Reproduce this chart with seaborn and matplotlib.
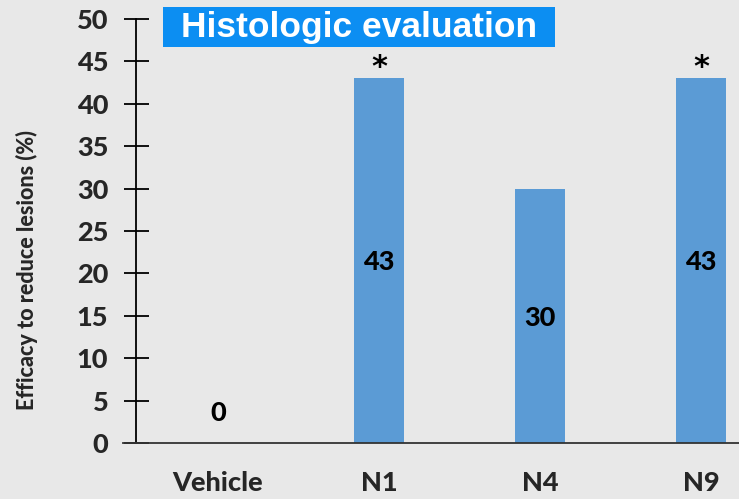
import matplotlib
matplotlib.use("Agg")
import matplotlib.pyplot as plt
from matplotlib.patches import Rectangle
import seaborn as sns
import pandas as pd

categories = ["Vehicle", "N1", "N4", "N9"]
efficacy = [0, 43, 30, 43]
value_labels = ["0", "43", "30", "43"]
label_y = [3.5, 21.3, 14.7, 21.3]
significant = [False, True, False, True]
yticks = [0, 5, 10, 15, 20, 25, 30, 35, 40, 45, 50]

bg = "#e8e8e8"
sns.set_theme(style="white")
plt.rcParams["font.family"] = ["Lato", "DejaVu Sans"]
WT = "black"
FS = 19.5

W, H = 739, 499
fig = plt.figure(figsize=(W / 100, H / 100), dpi=100, facecolor=bg)
ax_left_px, ax_right_px = 123, 739
ax_bottom_px, ax_top_px = 443, 19
ax = fig.add_axes([ax_left_px / W, (H - ax_bottom_px) / H,
                   (ax_right_px - ax_left_px) / W, (ax_bottom_px - ax_top_px) / H])
ax.set_facecolor(bg)

df = pd.DataFrame({"cat": categories, "val": efficacy})
sns.barplot(data=df, x="cat", y="val", color="#5b9bd5", saturation=1,
            width=0.31, ax=ax, edgecolor="none")

spacing = 161.0
for s in ["top", "right"]:
    ax.spines[s].set_visible(False)
ax.spines["left"].set_position(("data", -82 / spacing))
ax.spines["left"].set_color("black")
ax.spines["left"].set_linewidth(1.3)
ax.spines["bottom"].set_color("#333333")
ax.spines["bottom"].set_linewidth(1.3)

ax.set_xlim(-95 / spacing, 3 + 38 / spacing)
ax.set_ylim(0, 50)
ax.set_yticks(yticks)
ax.set_yticklabels([str(t) for t in yticks], fontsize=FS, fontweight=WT)
ax.set_xticks(range(len(categories)))
ax.set_xticklabels(categories, fontsize=FS, fontweight=WT)
ax.tick_params(axis="y", left=True, direction="inout", length=18, width=1.3, color="black", pad=11)
ax.tick_params(axis="x", bottom=False, length=0, pad=20)
ax.set_xlabel("")
ax.set_ylabel("")

fig.text(27 / W, (H - 270) / H, "Efficacy to reduce lesions (%)", rotation=90,
         ha="center", va="center", fontsize=15.5, fontweight=WT)

for i, (v, lab) in enumerate(zip(efficacy, value_labels)):
    ax.text(i, label_y[i], lab, ha="center", va="center", fontsize=FS, fontweight=WT, color="black")
    if significant[i]:
        ax.text(i, v - 0.4, "*", ha="center", va="bottom", fontsize=22, fontweight="bold",
                color="black", family="DejaVu Sans")

fig.patches.append(Rectangle((163 / W, (H - 47) / H), (555 - 163) / W, 40 / H,
                             transform=fig.transFigure, facecolor="#0c8ef2",
                             edgecolor="none", zorder=5))
fig.text(359 / W, (H - 28) / H, "Histologic evaluation", ha="center", va="center",
         fontsize=25.5, fontweight="bold", color="white", zorder=6,
         family=["Liberation Sans", "DejaVu Sans"])

fig.savefig("out.png", dpi=100, facecolor=bg)
